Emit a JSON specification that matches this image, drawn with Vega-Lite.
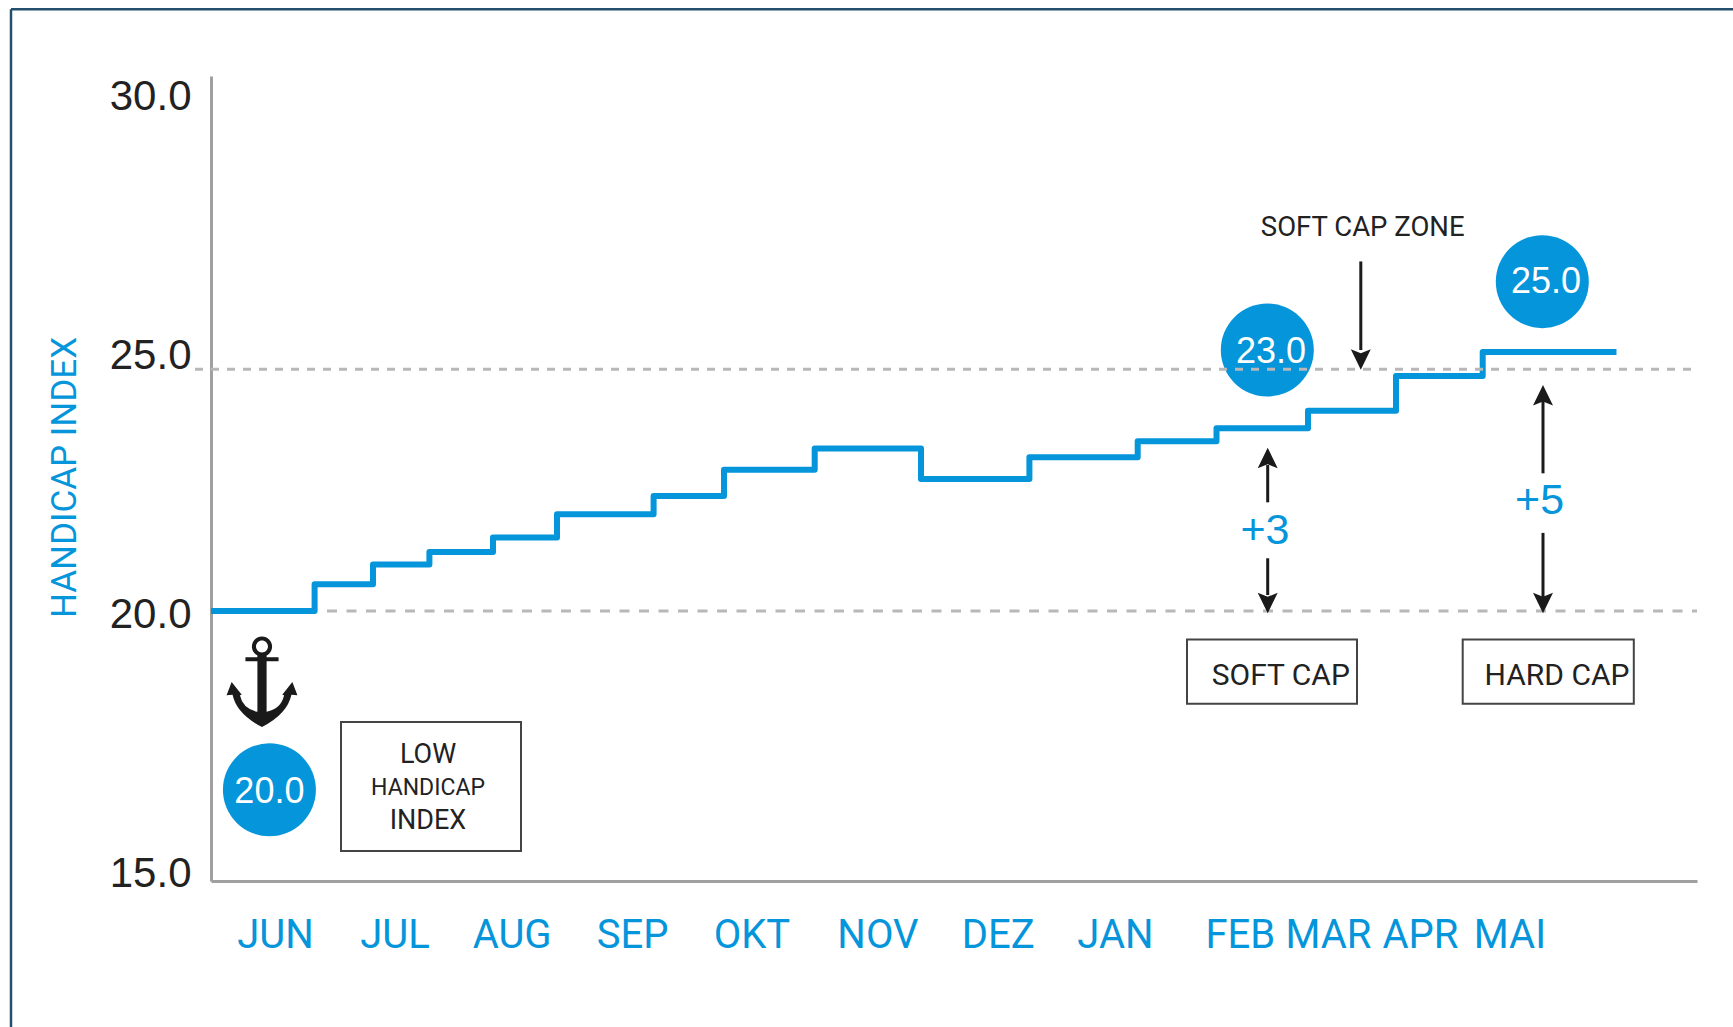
{
"$schema":"https://vega.github.io/schema/vega-lite/v6.json",
"width":1486,"height":805,
"autosize":{"type":"none"},
"padding":{"left":211,"top":76,"right":36,"bottom":146},
"background":"white",
"config":{"view":{"stroke":null},"axis":{"grid":false}},
"layer":[
{"data":{"values":[
 {"x":0,"v":20.0},{"x":103.6,"v":20.52},{"x":162,"v":20.90},{"x":218.4,"v":21.14},{"x":282,"v":21.42},{"x":346,"v":21.87},{"x":442.6,"v":22.22},{"x":513,"v":22.73},{"x":603.7,"v":23.14},{"x":710,"v":22.55},{"x":818.4,"v":22.97},{"x":926.7,"v":23.28},{"x":1005.5,"v":23.53},{"x":1097,"v":23.87},{"x":1185,"v":24.54},{"x":1271.7,"v":25.0},{"x":1405.5,"v":25.0}]},
 "mark":{"type":"line","interpolate":"step-after","stroke":"#0595db","strokeWidth":6,"strokeJoin":"round"},
 "encoding":{
  "x":{"field":"x","type":"quantitative","scale":{"domain":[0,1486],"nice":false,"zero":false},
   "axis":{"values":[64,183.5,300.6,421,540.4,666.4,786.8,904,1028.8,1117,1209,1298.4],
    "labelExpr":"{'64':'JUN','183.5':'JUL','300.6':'AUG','421':'SEP','540.4':'OKT','666.4':'NOV','786.8':'DEZ','904':'JAN','1028.8':'FEB','1117':'MAR','1209':'APR','1298.4':'MAI'}[datum.value]",
    "title":null,"ticks":false,"grid":false,"labelFont":"Roboto","labelFontSize":40,"labelColor":"#0595db","labelPadding":34,"labelBaseline":"top","labelOverlap":false,"labelFlush":false,"labelAlign":"center","domainColor":"#a0a0a0","domainWidth":3}},
  "y":{"field":"v","type":"quantitative","scale":{"domain":[14.79,30.33],"nice":false,"zero":false},
   "axis":{"values":[15,20,25,30],"format":".1f","title":"HANDICAP INDEX","ticks":false,"grid":false,"labelFont":"Liberation Sans","labelFontSize":42,"labelColor":"#222222","labelPadding":20,"labelBaseline":"middle","labelOffset":3,"labelOverlap":false,"labelFlush":false,"domainColor":"#a0a0a0","domainWidth":3,"titleFont":"Roboto","titleFontWeight":"normal","titleFontSize":35,"titleColor":"#0595db","titleX":-147,"titleY":401,"titleBaseline":"middle","titleAlign":"center"}}}},
{"data":{"values":[{"x":-200,"x2":1522,"v":31.62,"v2":31.62},{"x":-200,"x2":-200,"v":31.62,"v2":11.97}]},
 "mark":{"type":"rule","stroke":"#24506e","strokeWidth":2.5,"clip":false},
 "encoding":{"x":{"field":"x","type":"quantitative"},"x2":{"field":"x2"},"y":{"field":"v","type":"quantitative"},"y2":{"field":"v2"}}},
{"data":{"values":[{"x":51,"v":18.65}]},
 "mark":{"type":"point","shape":"M0,-.97 A.22,.22 0 1 1 0,-.53 A.22,.22 0 1 1 0,-.97 Z M0,-.88 A.13,.13 0 1 0 0,-.62 A.13,.13 0 1 0 0,-.88 Z M-.1,-.56 L.1,-.56 L.1,-.52 L.36,-.52 L.36,-.43 L.1,-.43 L.1,.67 Q.42,.6 .48,.31 L.44,.3 L.66,.02 L.77,.31 L.64,.3 Q.55,.72 0,1 Q-.55,.72 -.64,.3 L-.77,.31 L-.66,.02 L-.44,.3 L-.48,.31 Q-.42,.6 -.1,.67 L-.1,-.43 L-.36,-.43 L-.36,-.52 L-.1,-.52 Z","filled":true,"fill":"#1a1a1a","opacity":1,"size":8464,"strokeWidth":0},
 "encoding":{"x":{"field":"x","type":"quantitative"},"y":{"field":"v","type":"quantitative"}}},
{"data":{"values":[{"x":58.4,"v":16.55},{"x":1056.3,"v":25.04},{"x":1331.3,"v":26.36}]},
 "mark":{"type":"point","shape":"circle","filled":true,"fill":"#0595db","opacity":1,"size":8649,"strokeWidth":0},
 "encoding":{"x":{"field":"x","type":"quantitative"},"y":{"field":"v","type":"quantitative"}}},
{"data":{"values":[{"x":58.4,"v":16.5,"t":"20.0"},{"x":1060,"v":25.01,"t":"23.0"},{"x":1335,"v":26.35,"t":"25.0"}]},
 "mark":{"type":"text","font":"Liberation Sans","fontSize":36,"fill":"white","align":"center","baseline":"middle"},
 "encoding":{"x":{"field":"x","type":"quantitative"},"y":{"field":"v","type":"quantitative"},"text":{"field":"t"}}},
{"data":{"values":[{"x":-16,"x2":1481,"v":24.67}]},
 "mark":{"type":"rule","stroke":"#b8b8b8","strokeWidth":3,"strokeDash":[8,8],"clip":false},
 "encoding":{"x":{"field":"x","type":"quantitative"},"x2":{"field":"x2"},"y":{"field":"v","type":"quantitative"}}},
{"data":{"values":[{"x":116,"x2":1486,"v":20}]},
 "mark":{"type":"rule","stroke":"#b8b8b8","strokeWidth":3,"strokeDash":[10,9.5]},
 "encoding":{"x":{"field":"x","type":"quantitative"},"x2":{"field":"x2"},"y":{"field":"v","type":"quantitative"}}},
{"data":{"values":[{"x":130,"x2":310,"v":17.86,"v2":15.37},{"x":976,"x2":1146,"v":19.45,"v2":18.21},{"x":1251.7,"x2":1422.8,"v":19.45,"v2":18.21}]},
 "mark":{"type":"rect","fill":"white","fillOpacity":0,"stroke":"#444444","strokeWidth":2},
 "encoding":{"x":{"field":"x","type":"quantitative"},"x2":{"field":"x2"},"y":{"field":"v","type":"quantitative"},"y2":{"field":"v2"}}},
{"data":{"values":[{"x":217,"v":17.23,"t":"LOW"},{"x":217,"v":15.95,"t":"INDEX"}]},
 "mark":{"type":"text","font":"Roboto","fontSize":27,"fill":"#222222","align":"center","baseline":"middle"},
 "encoding":{"x":{"field":"x","type":"quantitative"},"y":{"field":"v","type":"quantitative"},"text":{"field":"t"}}},
{"data":{"values":[{"x":217,"v":16.59,"t":"HANDICAP"}]},
 "mark":{"type":"text","font":"Roboto","fontSize":23,"fill":"#222222","align":"center","baseline":"middle"},
 "encoding":{"x":{"field":"x","type":"quantitative"},"y":{"field":"v","type":"quantitative"},"text":{"field":"t"}}},
{"data":{"values":[{"x":1069.8,"v":18.74,"t":"SOFT CAP"},{"x":1346,"v":18.74,"t":"HARD CAP"}]},
 "mark":{"type":"text","font":"Roboto","fontSize":30,"fill":"#222222","align":"center","baseline":"middle"},
 "encoding":{"x":{"field":"x","type":"quantitative"},"y":{"field":"v","type":"quantitative"},"text":{"field":"t"}}},
{"data":{"values":[{"x":1151.7,"v":27.4,"t":"SOFT CAP ZONE"}]},
 "mark":{"type":"text","font":"Roboto","fontSize":27.5,"fill":"#222222","align":"center","baseline":"middle"},
 "encoding":{"x":{"field":"x","type":"quantitative"},"y":{"field":"v","type":"quantitative"},"text":{"field":"t"}}},
{"data":{"values":[{"x":1054,"v":21.54,"t":"+3"},{"x":1328.6,"v":22.13,"t":"+5"}]},
 "mark":{"type":"text","font":"Liberation Sans","fontSize":43,"fill":"#0595db","align":"center","baseline":"middle"},
 "encoding":{"x":{"field":"x","type":"quantitative"},"y":{"field":"v","type":"quantitative"},"text":{"field":"t"}}},
{"data":{"values":[{"x":1149.8,"v":26.75,"v2":25.04},{"x":1056.7,"v":22.82,"v2":22.10},{"x":1056.7,"v":21.02,"v2":20.31},{"x":1332,"v":24.07,"v2":22.66},{"x":1332,"v":21.51,"v2":20.21}]},
 "mark":{"type":"rule","stroke":"#1a1a1a","strokeWidth":3},
 "encoding":{"x":{"field":"x","type":"quantitative"},"y":{"field":"v","type":"quantitative"},"y2":{"field":"v2"}}},
{"data":{"values":[{"x":1149.8,"v":24.86},{"x":1056.7,"v":20.16},{"x":1332,"v":20.16}]},
 "mark":{"type":"point","shape":"M0,1.05 L-1,-1 L0,-0.6 L1,-1 Z","filled":true,"fill":"#1a1a1a","opacity":1,"size":400,"strokeWidth":0},
 "encoding":{"x":{"field":"x","type":"quantitative"},"y":{"field":"v","type":"quantitative"}}},
{"data":{"values":[{"x":1056.7,"v":22.95},{"x":1332,"v":24.16}]},
 "mark":{"type":"point","shape":"M0,-1.05 L-1,1 L0,0.6 L1,1 Z","filled":true,"fill":"#1a1a1a","opacity":1,"size":400,"strokeWidth":0},
 "encoding":{"x":{"field":"x","type":"quantitative"},"y":{"field":"v","type":"quantitative"}}}
]
}
